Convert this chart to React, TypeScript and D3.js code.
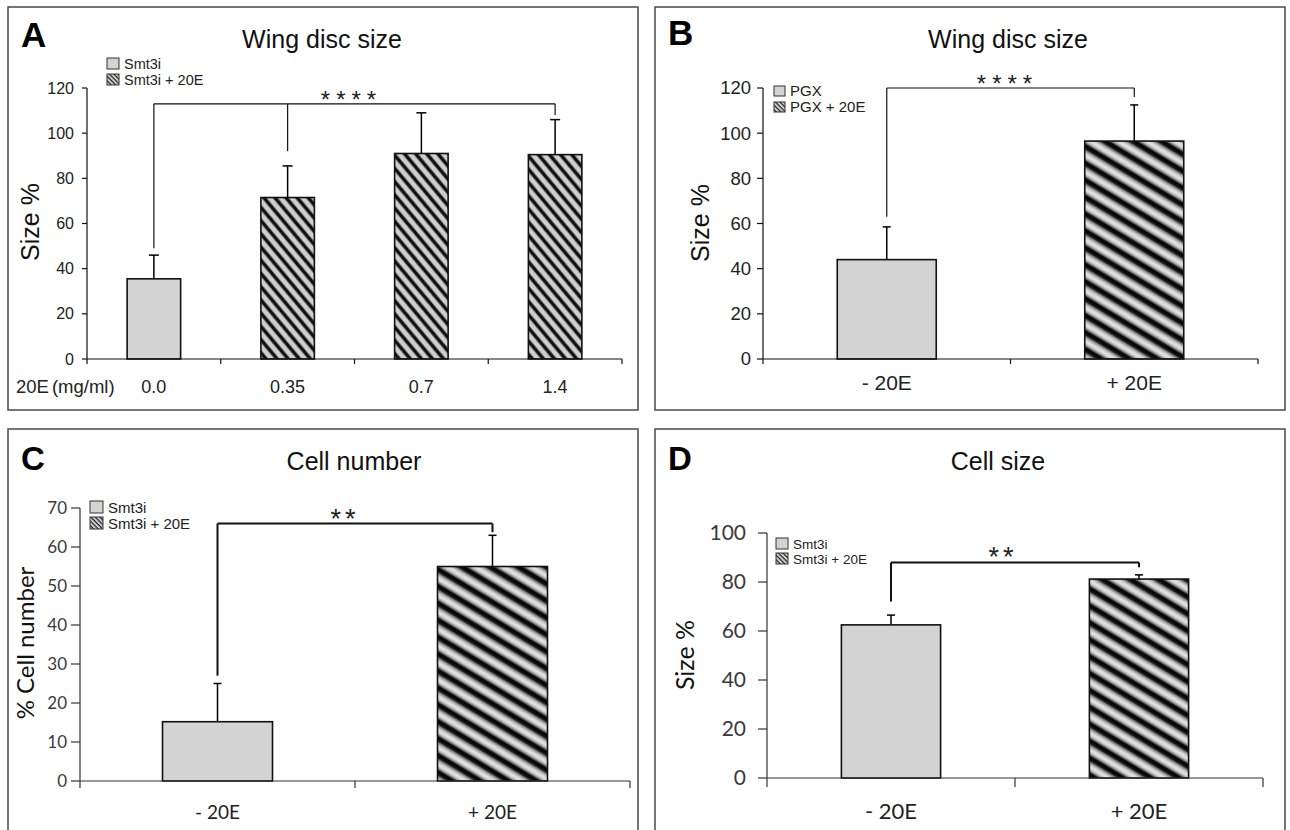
import React from 'react';
import * as d3 from 'd3';

// ---------- data ----------
const catsA = ['0.0', '0.35', '0.7', '1.4'];
const meansA = [35.5, 71.5, 91, 90.5];
const errsA = [10.5, 14, 18, 15.5];
const hatchA = [false, true, true, true];
const ticksA = [0, 20, 40, 60, 80, 100, 120];
const legendA = ['Smt3i', 'Smt3i + 20E'];

const catsB = ['- 20E', '+ 20E'];
const meansB = [44, 96.5];
const errsB = [14.5, 16];
const hatchB = [false, true];
const ticksB = [0, 20, 40, 60, 80, 100, 120];
const legendB = ['PGX', 'PGX + 20E'];

const catsC = ['- 20E', '+ 20E'];
const meansC = [15.2, 55];
const errsC = [9.8, 8];
const hatchC = [false, true];
const ticksC = [0, 10, 20, 30, 40, 50, 60, 70];
const legendC = ['Smt3i', 'Smt3i + 20E'];

const catsD = ['- 20E', '+ 20E'];
const meansD = [62.5, 81.2];
const errsD = [4, 1.7];
const hatchD = [false, true];
const ticksD = [0, 20, 40, 60, 80, 100];
const legendD = ['Smt3i', 'Smt3i + 20E'];

// significance brackets: level, legs [category index, lower end value], stars
const bracketA = { level: 113, legs: [[0, 49], [1, 92], [3, 108]], stars: '****' };
const bracketB = { level: 120, legs: [[0, 63], [1, 116]], stars: '****' };
const bracketC = { level: 66, legs: [[0, 27], [1, 63.8]], stars: '**' };
const bracketD = { level: 88, legs: [[0, 72], [1, 86]], stars: '**' };

const ARIAL = '"Liberation Sans", Arial, sans-serif';
const CAL = 'Lato, "Open Sans", sans-serif';

const panels = [
  {
    id: 'A', title: 'Wing disc size', titleX: 322, letterX: 21, letterY: 47, letterSize: 35,
    box: [8, 7, 630, 403], cats: catsA, means: meansA, errs: errsA, hatch: hatchA, ticks: ticksA,
    legend: legendA, bracket: bracketA, ymax: 120, x0: 87, x1: 622, yb: 359, yt: 88,
    tickFont: ARIAL, tickSize: 16, tickColor: '#222', tickLen: 5, tickGap: 12, xTickLen: 5,
    ylab: 'Size %', ylabFont: ARIAL, ylabSize: 25, ylabX: 39, ylabY: 222,
    xFont: ARIAL, xSize: 18, xBase: 393, capW: 10, pattern: 'hatchA', bracketW: 1.2,
    leg: { x: 107, y: 58, sq: 12, gap: 16, size: 14.5 }, starSize: 24, starSpacing: 6, starDx: 0,
    axisColor: '#111', titleY: 48,
  },
  {
    id: 'B', title: 'Wing disc size', titleX: 1008, letterX: 668, letterY: 45, letterSize: 35,
    box: [655, 7, 630, 403], cats: catsB, means: meansB, errs: errsB, hatch: hatchB, ticks: ticksB,
    legend: legendB, bracket: bracketB, ymax: 120, x0: 763, x1: 1258, yb: 359, yt: 88,
    tickFont: ARIAL, tickSize: 18.5, tickColor: '#222', tickLen: 6, tickGap: 10, xTickLen: 5,
    ylab: 'Size %', ylabFont: ARIAL, ylabSize: 25, ylabX: 709, ylabY: 223,
    xFont: ARIAL, xSize: 21, xBase: 390, capW: 8, pattern: 'hatchBig', bracketW: 1.2,
    leg: { x: 774, y: 86, sq: 11, gap: 16, size: 15 }, starSize: 24, starSpacing: 6, starDx: 0,
    axisColor: '#111', titleY: 48,
  },
  {
    id: 'C', title: 'Cell number', titleX: 354, letterX: 21, letterY: 470, letterSize: 33,
    box: [8, 429, 630, 410], cats: catsC, means: meansC, errs: errsC, hatch: hatchC, ticks: ticksC,
    legend: legendC, bracket: bracketC, ymax: 70, x0: 80, x1: 630, yb: 781, yt: 508,
    tickFont: CAL, tickSize: 17, tickColor: '#3a3a3a', tickLen: 9, tickGap: 8, xTickLen: 7,
    ylab: '% Cell number', ylabFont: CAL, ylabSize: 24, ylabX: 34, ylabY: 643,
    xFont: CAL, xSize: 19, xBase: 819, capW: 8, pattern: 'hatchBig', bracketW: 2,
    leg: { x: 90, y: 501, sq: 13, gap: 16, size: 15 }, starSize: 27, starSpacing: 4, starDx: -6,
    axisColor: '#333', titleY: 470,
  },
  {
    id: 'D', title: 'Cell size', titleX: 998, letterX: 668, letterY: 470, letterSize: 33,
    box: [655, 429, 630, 410], cats: catsD, means: meansD, errs: errsD, hatch: hatchD, ticks: ticksD,
    legend: legendD, bracket: bracketD, ymax: 100, x0: 767, x1: 1263, yb: 778, yt: 533,
    tickFont: CAL, tickSize: 21, tickColor: '#3a3a3a', tickLen: 9, tickGap: 16, xTickLen: 9,
    ylab: 'Size %', ylabFont: CAL, ylabSize: 25, ylabX: 694, ylabY: 655,
    xFont: CAL, xSize: 22, xBase: 819, capW: 8, pattern: 'hatchBig', bracketW: 2,
    leg: { x: 776, y: 538, sq: 12, gap: 15, size: 13.5 }, starSize: 27, starSpacing: 4, starDx: -8,
    axisColor: '#333', titleY: 470,
  },
];

function Panel({ p }: { p: any }) {
  const x = d3.scaleBand<string>().domain(p.cats).range([p.x0, p.x1]).padding(0);
  const y = d3.scaleLinear().domain([0, p.ymax]).range([p.yb, p.yt]);
  const bw = x.bandwidth() * 0.4;
  const cx = (i: number) => (x(p.cats[i]) as number) + x.bandwidth() / 2;
  const boundaries = [...p.cats.map((c: string) => x(c) as number), p.x1];
  const br = p.bracket;
  const bxL = cx(br.legs[0][0]);
  const bxR = cx(br.legs[br.legs.length - 1][0]);
  const by = y(br.level);
  const [bx, byy, bwid, bh] = p.box;
  return (
    <g>
      <rect x={bx} y={byy} width={bwid} height={bh} fill="#fff" stroke="#4a4a4a" strokeWidth={1.5} />
      <text x={p.letterX} y={p.letterY} fontFamily={ARIAL} fontWeight="bold" fontSize={p.letterSize} fill="#000">{p.id}</text>
      <text x={p.titleX} y={p.titleY} textAnchor="middle" fontFamily={ARIAL} fontSize={25} fill="#111">{p.title}</text>

      {/* legend */}
      {p.legend.map((t: string, i: number) => (
        <g key={t}>
          <rect x={p.leg.x} y={p.leg.y + i * p.leg.gap} width={p.leg.sq} height={p.leg.sq - 1}
            fill={i === 0 ? '#d3d3d3' : 'url(#hatchLeg)'} stroke="#333" strokeWidth={1} />
          <text x={p.leg.x + p.leg.sq + 5} y={p.leg.y + i * p.leg.gap + p.leg.sq - 1} fontFamily={ARIAL}
            fontSize={p.leg.size} fill="#222">{t}</text>
        </g>
      ))}

      {/* y axis */}
      <line x1={p.x0} x2={p.x0} y1={y(0)} y2={y(p.ymax)} stroke={p.axisColor} strokeWidth={1.2} />
      {p.ticks.map((t: number) => (
        <g key={t}>
          <line x1={p.x0 - p.tickLen} x2={p.x0} y1={y(t)} y2={y(t)} stroke={p.axisColor} strokeWidth={1.2} />
          <text x={p.x0 - p.tickLen - p.tickGap + 4} y={y(t)} dy="0.35em" textAnchor="end" fontFamily={p.tickFont}
            fontSize={p.tickSize} fill={p.tickColor}>{t}</text>
        </g>
      ))}
      <text transform={`translate(${p.ylabX},${p.ylabY}) rotate(-90)`} textAnchor="middle" fontFamily={p.ylabFont}
        fontSize={p.ylabSize} fill="#111">{p.ylab}</text>

      {/* bars */}
      {p.cats.map((c: string, i: number) => (
        <g key={c}>
          <line x1={cx(i)} x2={cx(i)} y1={y(p.means[i])} y2={y(p.means[i] + p.errs[i])} stroke="#000" strokeWidth={1.5} />
          <line x1={cx(i) - p.capW / 2} x2={cx(i) + p.capW / 2} y1={y(p.means[i] + p.errs[i])} y2={y(p.means[i] + p.errs[i])}
            stroke="#000" strokeWidth={1.5} />
          <rect x={cx(i) - bw / 2} y={y(p.means[i])} width={bw} height={y(0) - y(p.means[i])}
            fill={p.hatch[i] ? `url(#${p.pattern})` : '#d3d3d3'} stroke="#111" strokeWidth={1.6} />
        </g>
      ))}

      {/* x axis */}
      <line x1={p.x0} x2={p.x1} y1={y(0)} y2={y(0)} stroke={p.axisColor} strokeWidth={1.2} />
      {boundaries.map((b: number, i: number) => (
        <line key={i} x1={b} x2={b} y1={y(0)} y2={y(0) + p.xTickLen} stroke={p.axisColor} strokeWidth={1.2} />
      ))}
      {p.cats.map((c: string, i: number) => (
        <text key={c} x={cx(i)} y={p.xBase} textAnchor="middle" fontFamily={p.xFont} fontSize={p.xSize} fill="#222">{c}</text>
      ))}
      {p.id === 'A' && (
        <text x={16} y={p.xBase} fontFamily={ARIAL} fontSize={18.5} fill="#222">20E<tspan dx={3}>(mg/ml)</tspan></text>
      )}

      {/* significance bracket */}
      <line x1={bxL} x2={bxR} y1={by} y2={by} stroke="#111" strokeWidth={p.bracketW} />
      {br.legs.map((l: number[], i: number) => (
        <line key={i} x1={cx(l[0])} x2={cx(l[0])} y1={by} y2={y(l[1])} stroke="#111" strokeWidth={p.bracketW} />
      ))}
      <text x={(bxL + bxR) / 2 + p.starSpacing / 2 - 6 + p.starDx} y={by + 4} textAnchor="middle" fontFamily={ARIAL}
        fontSize={p.starSize} letterSpacing={p.starSpacing} fill="#222">{br.stars}</text>
    </g>
  );
}

export default function App() {
  return (
    <svg width={1290} height={830} style={{ position: 'absolute', left: 0, top: 0, background: '#fff' }}>
      <defs>
        <pattern id="hatchA" patternUnits="userSpaceOnUse" width={20} height={8.5} patternTransform="rotate(50)">
          <rect x={0} y={0} width={20} height={8.5} fill="#cfcfcf" />
          <rect x={0} y={0} width={20} height={3} fill="#111" />
          <rect x={0} y={3} width={20} height={0.8} fill="#777" />
          <rect x={0} y={7.7} width={20} height={0.8} fill="#777" />
        </pattern>
        <linearGradient id="stripeGrad" x1="0" y1="0" x2="0" y2="1">
          <stop offset="0" stopColor="#000" />
          <stop offset="0.22" stopColor="#111" />
          <stop offset="0.36" stopColor="#8a8a8a" />
          <stop offset="0.5" stopColor="#cdcdcd" />
          <stop offset="0.65" stopColor="#e6e6e6" />
          <stop offset="0.8" stopColor="#bdbdbd" />
          <stop offset="0.93" stopColor="#555" />
          <stop offset="1" stopColor="#000" />
        </linearGradient>
        <pattern id="hatchBig" patternUnits="userSpaceOnUse" width={30} height={14.5} patternTransform="rotate(31)">
          <rect x={0} y={0} width={30} height={14.5} fill="url(#stripeGrad)" />
        </pattern>
        <pattern id="hatchLeg" patternUnits="userSpaceOnUse" width={6} height={3.2} patternTransform="rotate(45)">
          <rect x={0} y={0} width={6} height={3.2} fill="#d0d0d0" />
          <rect x={0} y={0} width={6} height={1.2} fill="#222" />
        </pattern>
      </defs>
      <rect x={0} y={0} width={1290} height={830} fill="#fff" />
      {panels.map((p) => <Panel key={p.id} p={p} />)}
    </svg>
  );
}
